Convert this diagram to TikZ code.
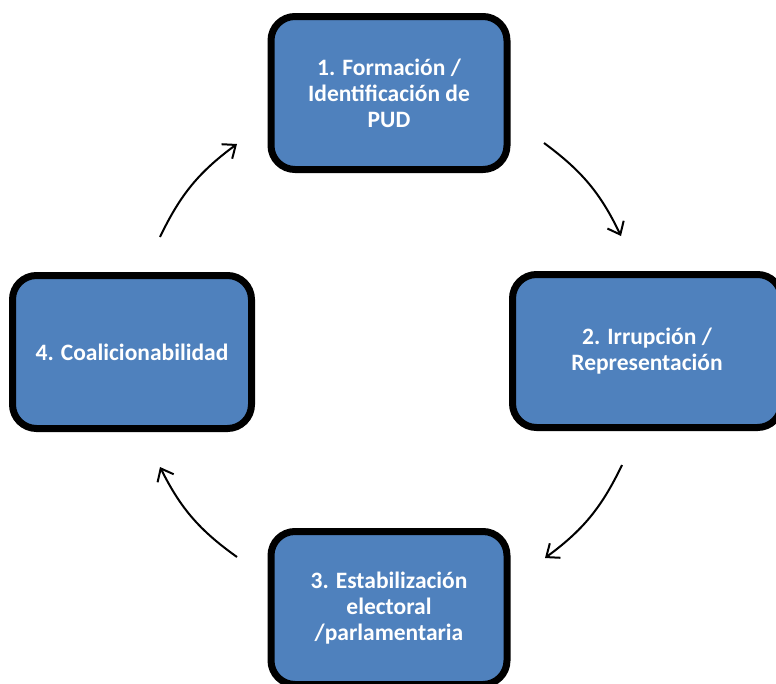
\documentclass[tikz,border=0pt]{standalone}
\usepackage{fontspec}
\setmainfont{Carlito}
\usetikzlibrary{arrows.meta}

\definecolor{stageblue}{HTML}{4F81BD}
\tikzset{
	stage/.style={draw=black, line width=7pt, rounded corners=24pt, fill=stageblue,
		minimum width=236pt, minimum height=153pt, align=center, text=white,
		font=\fontsize{23.5}{26}\selectfont\bfseries, inner sep=0pt},
	cycle/.style={line width=2pt, -{Straight Barb[length=11pt,width=18pt]}, bend left=14}
}

\begin{document}
\begin{tikzpicture}[x=1pt,y=-1pt]
	\path[use as bounding box, clip] (0,0) rectangle (776,683);
	% stages
	\node[stage] (form) at (389,93) {1. Formación /\\Identificación de\\PUD};
	\node[stage, minimum width=269pt] (irr) at (647,351) {2. Irrupción /\\Representación};
	\node[stage] (estab) at (389,608) {3. Estabilización\\electoral\\/parlamentaria};
	\node[stage, minimum width=239pt] (coal) at (132,352) {4. Coalicionabilidad};
	% arrow ends
	\coordinate (formout) at (544,143);
	\coordinate (irrin) at (621,236);
	\coordinate (irrout) at (622,465);
	\coordinate (estabin) at (545,558);
	\coordinate (estabout) at (237,557);
	\coordinate (coalin) at (160,467);
	\coordinate (coalout) at (160,237);
	\coordinate (formin) at (237,144);
	% cycle
	\draw[cycle] (formout) to (irrin);
	\draw[cycle] (irrout) to (estabin);
	\draw[cycle] (estabout) to (coalin);
	\draw[cycle] (coalout) to (formin);
\end{tikzpicture}
\end{document}
